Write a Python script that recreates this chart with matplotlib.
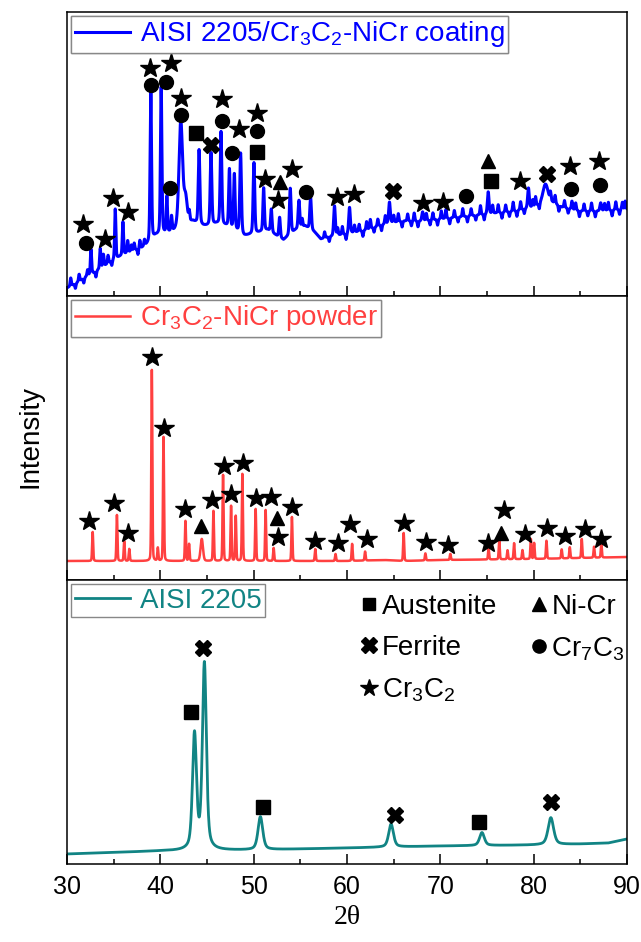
import numpy as np
import matplotlib
matplotlib.use("Agg")
import matplotlib.pyplot as plt
from matplotlib.lines import Line2D
from matplotlib.ticker import MultipleLocator

plt.rcParams['font.family'] = ['Liberation Sans', 'DejaVu Sans']
plt.rcParams['mathtext.fontset'] = 'custom'
plt.rcParams['mathtext.rm'] = 'Liberation Sans'
plt.rcParams['mathtext.it'] = 'Liberation Sans'
plt.rcParams['mathtext.default'] = 'regular'

# ---------------- data (2theta in degrees, intensity in arbitrary units) ----------------
# Coating (blue)
coat_bg_x = [30, 31, 32, 33, 34, 35, 36, 37, 38, 38.7, 39.5, 40.5, 41.5, 42.8, 43.5, 44.6, 45.0,
             46.0, 47.0, 48.0, 49.0, 50.0, 51.5, 52.5, 53.2, 54.5, 55.5, 56.5, 57.2, 58, 60, 62,
             64, 66, 68, 70, 72, 74, 76, 78, 80, 81.5, 83, 85, 87, 90]
coat_bg_y = [8, 13, 19, 24, 30, 36, 41, 45, 48, 52, 60, 62, 64, 72, 74, 70, 70,
             72, 70, 66, 60, 62, 66, 60, 56, 66, 70, 64, 57, 59, 62, 66,
             72, 75, 75, 77, 79, 81, 83, 85, 89, 96, 89, 85, 85, 87]
# main reflections
coat_pk_pos = [32.57, 33.56, 33.9, 35.17, 35.99, 36.5, 38.98, 40.09, 40.7, 41.2, 42.19, 42.7,
               44.15, 45.43, 46.5, 47.4, 47.93, 48.6, 50.03, 51.07, 51.89, 52.78, 53.92, 54.85,
               56.1, 58.66, 60.27, 64.55, 68.1, 75.13, 79.44, 81.25, 87.18]
coat_pk_amp = [25, 20, 12, 50, 33, 12, 152, 147, 36, 15, 106, 25,
               74, 72, 93, 58, 55, 80, 71, 43, 23, 20, 46, 28,
               32, 30, 26, 21, 9, 22, 20, 17, 8]
coat_pk_fwhm = [0.15, 0.15, 0.15, 0.15, 0.15, 0.15, 0.18, 0.18, 0.15, 0.15, 0.45, 0.4,
                0.2, 0.2, 0.2, 0.18, 0.18, 0.2, 0.2, 0.18, 0.18, 0.18, 0.2, 0.2,
                0.2, 0.2, 0.2, 0.2, 0.2, 0.2, 0.2, 0.6, 0.2]
# small spikes and dips seen along the noisy coating trace
coat_tx_pos = [30.4, 30.9, 31.3, 31.8, 32.2, 33.1, 34.4, 34.8, 36.9, 37.2, 37.6, 37.8, 38.3,
               43.1, 55.2, 57.6, 58.1, 59.0, 59.5, 59.9, 60.8, 61.3, 61.7, 62.1, 62.5, 62.9,
               63.3, 63.7, 64.1, 65.0, 65.5, 65.9, 66.5, 66.9, 67.2, 67.6, 68.5, 68.9, 69.2,
               69.7, 70.1, 70.6, 71.0, 71.5, 71.9, 72.4, 72.9, 73.3, 73.8, 74.3, 74.7, 75.6,
               76.2, 76.6, 77.0, 77.4, 77.8, 78.2, 78.6, 79.0, 79.9, 80.2, 80.6, 81.8, 82.3,
               82.7, 83.3, 83.7, 84.1, 84.5, 84.9, 85.4, 85.8, 86.2, 86.6, 87.6, 88.0, 88.4,
               88.8, 89.2, 89.5, 89.8]
coat_tx_amp = [8, -5, 7, -5, 6, -6, 8, -5, 6, 7, -6, 8, 6,
               9, 8, 6, -5, 7, 8, -6, 7, 7, -6, 8, 9, -5,
               7, -6, 8, 7, 8, -6, 7, -5, 8, -6, 7, -5, 7,
               -6, 8, 9, -6, 7, -5, 8, -6, 7, -5, 9, -6, 8,
               8, -6, 7, -5, 9, -6, 8, -5, 7, 9, -6, 8, 8,
               -6, 7, -5, 8, 7, -6, 7, -5, 8, -6, 7, 8, -6,
               8, -5, 7, 8]
coat_tx_fwhm = [0.14] * 82

# Powder (red)
pow_bg_x = [30, 50, 60, 64, 66, 70, 80, 90]
pow_bg_y = [19, 19, 19, 20, 19, 20, 21, 23]
pow_pk_pos = [32.75, 35.35, 36.13, 36.67, 39.09, 39.73, 40.34, 42.69, 43.08, 44.44, 45.69,
              46.72, 47.58, 48.08, 48.79, 50.21, 51.28, 52.14, 54.1, 56.6, 58.77, 60.55, 61.94,
              66.07, 68.4, 71.07, 75.17, 76.31, 77.2, 77.9, 78.8, 79.7, 80.05, 81.37, 83.0,
              83.87, 85.15, 86.47, 87.25]
pow_pk_amp = [29, 46, 20, 12, 191, 13, 124, 40, 17, 22, 50,
              86, 55, 45, 87, 52, 51, 13, 44, 12, 7, 17, 9,
              28, 7, 6, 11, 19, 9, 16, 9, 20, 16, 18, 9,
              11, 19, 11, 14]
pow_pk_fwhm = [0.13] * 9 + [0.3] + [0.13] * 29

# AISI 2205 substrate (teal)
sub_bg_x = [30, 40, 50, 60, 70, 80, 85, 88, 90]
sub_bg_y = [10, 13, 14, 16, 18, 19, 20, 21, 25]
sub_pk_pos = [43.66, 44.72, 50.72, 64.72, 74.46, 81.84]
sub_pk_amp = [115, 186, 33, 23, 13, 27]
sub_pk_fwhm = [0.5, 0.5, 0.6, 0.6, 0.6, 0.7]

# Phase markers (2theta, height)
coat_star_x = [31.68, 34.1, 34.92, 36.49, 38.91, 41.16, 42.19, 46.58, 48.43, 50.32, 51.18, 52.6,
               54.13, 58.9, 60.7, 68.18, 70.32, 78.52, 83.9, 86.95]
coat_star_y = [72, 57, 98, 84, 228, 233, 198, 197, 167, 183, 117, 96,
               127, 99, 102, 93, 94, 115, 130, 135]
coat_circ_x = [32.03, 39.02, 40.62, 41.05, 42.19, 46.58, 47.72, 50.32, 55.63, 72.8, 84.04, 87.1]
coat_circ_y = [53, 211, 214, 108, 181, 175, 143, 165, 104, 100, 107, 111]
coat_sq_x = [43.83, 50.32, 75.42]
coat_sq_y = [163, 144, 115]
coat_x_x = [45.43, 64.9, 81.4]
coat_x_y = [151, 105, 122]
coat_tri_x = [52.85, 75.06]
coat_tri_y = [114, 135]

pow_star_x = [32.32, 35.0, 36.5, 39.09, 40.34, 42.69, 45.57, 46.83, 47.58, 48.9, 50.2, 51.89,
              52.6, 54.1, 56.6, 59.0, 60.27, 62.16, 66.15, 68.47, 70.85, 75.07, 76.77, 79.1,
              81.4, 83.33, 85.47, 87.18]
pow_star_y = [59, 77, 47, 223, 152, 71, 80, 114, 86, 117, 82, 83,
              43, 73, 39, 37, 56, 41, 57, 38, 35, 37, 70, 46,
              52, 44, 51, 41]
pow_tri_x = [44.33, 52.49, 76.49]
pow_tri_y = [54, 62, 47]

sub_sq_x = [43.26, 51.03, 74.17]
sub_sq_y = [152, 57, 42]
sub_x_x = [44.55, 65.19, 81.84]
sub_x_y = [216, 49, 62]

phase_names = ['Austenite', 'Ferrite', 'Cr$_3$C$_2$', 'Ni-Cr', 'Cr$_7$C$_3$']
series_names = ['AISI 2205/Cr$_3$C$_2$-NiCr coating', 'Cr$_3$C$_2$-NiCr powder', 'AISI 2205']
series_colors = ['#0000FF', '#FF4040', '#118484']

# ---------------- build profiles ----------------
tt = np.arange(30.0, 90.0001, 0.01)


def pattern(bgx, bgy, pos, amp, fwhm, eta):
    y = np.interp(tt, bgx, bgy).astype(float)
    for c, a, w in zip(pos, amp, fwhm):
        d = (tt - c) / w
        y += a * (eta / (1 + 4 * d ** 2) + (1 - eta) * np.exp(-4 * np.log(2) * d ** 2))
    return y


y_coat = pattern(coat_bg_x, coat_bg_y, coat_pk_pos + coat_tx_pos, coat_pk_amp + coat_tx_amp,
                 coat_pk_fwhm + coat_tx_fwhm, 0.3)
y_pow = pattern(pow_bg_x, pow_bg_y, pow_pk_pos, pow_pk_amp, pow_pk_fwhm, 0.2)
y_sub = pattern(sub_bg_x, sub_bg_y, sub_pk_pos, sub_pk_amp, sub_pk_fwhm, 0.5)

# ---------------- figure ----------------
fig = plt.figure(figsize=(6.41, 9.42), dpi=100)
gs = fig.add_gridspec(3, 1, left=67 / 641, right=627 / 641, bottom=1 - 864 / 942,
                      top=1 - 12 / 942, hspace=0)
axes = [fig.add_subplot(gs[i]) for i in range(3)]

ys = [y_coat, y_pow, y_sub]
lws = [2.2, 1.8, 2.0]
for ax, y, col, lw, name in zip(axes, ys, series_colors, lws, series_names):
    ax.plot(tt, y, color=col, lw=lw, label=name)
    ax.set_xlim(30, 90)
    ax.set_ylim(0, 284)
    ax.set_yticks([])
    ax.xaxis.set_major_locator(MultipleLocator(10))
    ax.xaxis.set_minor_locator(MultipleLocator(5))
    ax.tick_params(axis='x', which='major', direction='in', length=7, width=1.1, labelsize=18, pad=8)
    ax.tick_params(axis='x', which='minor', direction='in', length=3.5, width=1.1)
    for s in ax.spines.values():
        s.set_linewidth(1.1)
for ax in axes[:2]:
    ax.tick_params(axis='x', labelbottom=False)

mk = dict(ls='none', color='k', zorder=5)
STAR, CIRC, SQ, XX, TRI = 14.5, 10, 9.5, 11, 9.5

a0 = axes[0]
a0.plot(coat_star_x, coat_star_y, marker='*', ms=STAR, **mk)
a0.plot(coat_circ_x, coat_circ_y, marker='o', ms=CIRC, **mk)
a0.plot(coat_sq_x, coat_sq_y, marker='s', ms=SQ, **mk)
a0.plot(coat_x_x, coat_x_y, marker='X', ms=XX, **mk)
a0.plot(coat_tri_x, coat_tri_y, marker='^', ms=TRI, **mk)

a1 = axes[1]
a1.plot(pow_star_x, pow_star_y, marker='*', ms=STAR, **mk)
a1.plot(pow_tri_x, pow_tri_y, marker='^', ms=TRI, **mk)

a2 = axes[2]
a2.plot(sub_sq_x, sub_sq_y, marker='s', ms=SQ, **mk)
a2.plot(sub_x_x, sub_x_y, marker='X', ms=XX, **mk)

for ax, col in zip(axes, series_colors):
    leg = ax.legend(loc='upper left', bbox_to_anchor=(0.0, 1.0), borderaxespad=0.15,
                    fontsize=20, frameon=True, fancybox=False, edgecolor='#888888',
                    framealpha=1, handlelength=2.0, handletextpad=0.35, borderpad=0.12,
                    labelcolor='linecolor')
    leg.get_frame().set_linewidth(1.0)
    ax.add_artist(leg)

handles = [Line2D([], [], ls='none', marker='s', color='k', ms=9),
           Line2D([], [], ls='none', marker='X', color='k', ms=12),
           Line2D([], [], ls='none', marker='*', color='k', ms=13),
           Line2D([], [], ls='none', marker='^', color='k', ms=10),
           Line2D([], [], ls='none', marker='o', color='k', ms=9.5)]
a2.legend(handles, phase_names, loc='upper left', bbox_to_anchor=(0.5, 1.0), ncol=2,
          frameon=False, fontsize=20, handlelength=0.6, handletextpad=0.15,
          columnspacing=1.2, labelspacing=0.55, borderaxespad=0.1)

fig.text(30 / 641, 1 - 437 / 942, 'Intensity', rotation=90, ha='center', va='center', fontsize=20)
fig.text(347 / 641, 1 - 917 / 942, '2θ', ha='center', va='center', fontsize=20,
         family=['Liberation Serif', 'DejaVu Serif'])

fig.savefig('out.png', dpi=100)
